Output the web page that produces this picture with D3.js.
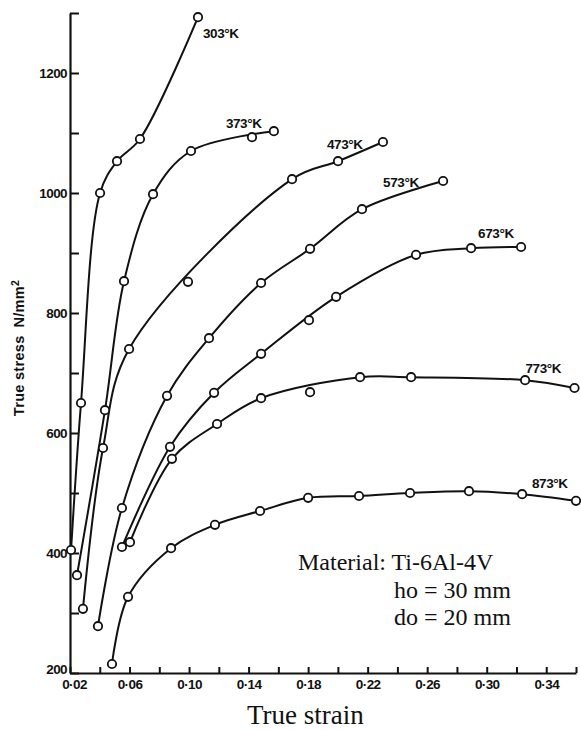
<!DOCTYPE html>
<html>
<head>
<meta charset="utf-8">
<script src="https://cdn.jsdelivr.net/npm/d3@7"></script>
<style>
  html, body { margin: 0; padding: 0; background: #fff; }
  svg { display: block; }
</style>
</head>
<body>
<script>
// Flow curves of Ti-6Al-4V: true stress (N/mm²) against true strain at seven temperatures.
const temperatures = ["303°K", "373°K", "473°K", "573°K", "673°K", "773°K", "873°K"];

const strain303 = [0.0207, 0.0274, 0.0402, 0.0516, 0.0670, 0.1060];
const stress303 = [405, 650, 1000, 1053, 1090, 1293];

const strain373 = [0.0247, 0.0435, 0.0563, 0.0758, 0.1013, 0.1423, 0.1570];
const stress373 = [363, 638, 853, 998, 1070, 1093, 1103];

const strain473 = [0.0287, 0.0422, 0.0597, 0.0993, 0.1692, 0.2001, 0.2303];
const stress473 = [307, 575, 740, 852, 1023, 1053, 1085];

const strain573 = [0.0388, 0.0549, 0.0852, 0.1134, 0.1484, 0.1813, 0.2162, 0.2707];
const stress573 = [278, 475, 662, 758, 850, 907, 973, 1020];

const strain673 = [0.0549, 0.0872, 0.1168, 0.1484, 0.1806, 0.1988, 0.2525, 0.2895, 0.3231];
const stress673 = [410, 577, 667, 732, 788, 827, 897, 908, 910];

const strain773 = [0.0603, 0.0885, 0.1188, 0.1484, 0.1813, 0.2149, 0.2492, 0.3258, 0.3590];
const stress773 = [418, 557, 615, 658, 668, 693, 693, 688, 675];

const strain873 = [0.0482, 0.0590, 0.0879, 0.1174, 0.1477, 0.1800, 0.2142, 0.2485, 0.2881, 0.3238, 0.3600];
const stress873 = [215, 327, 408, 447, 470, 492, 495, 500, 503, 498, 487];

// Measured points that the faired curve does not pass through (index within each series)
const scatterPoints = [[], [5], [3], [], [4], [4], []];

const xTicks = [0.02, 0.04, 0.06, 0.08, 0.10, 0.12, 0.14, 0.16, 0.18, 0.20, 0.22, 0.24, 0.26, 0.28, 0.30, 0.32, 0.34, 0.36];
const xTickLabels = ["0·02", "", "0·06", "", "0·10", "", "0·14", "", "0·18", "", "0·22", "", "0·26", "", "0·30", "", "0·34", ""];
const yTicks = [200, 300, 400, 500, 600, 700, 800, 900, 1000, 1100, 1200, 1300];
const yTickLabels = ["200", "", "400", "", "600", "", "800", "", "1000", "", "1200", ""];

const materialLines = ["Material: Ti-6Al-4V", "ho = 30 mm", "do = 20 mm"];

// ---- layout ----
const W = 581, H = 730;
const plot = { left: 70, right: 576, top: 13, bottom: 673 };
// Label placement relative to the last point of each curve (px)
const labelOffsets = [[5, 21], [-48, -3], [-56, 7], [-60, 6], [-43, -9], [-49, -15], [-44, -13]];

const series = [
  [strain303, stress303], [strain373, stress373], [strain473, stress473],
  [strain573, stress573], [strain673, stress673], [strain773, stress773],
  [strain873, stress873]
].map(([xs, ys], i) => ({
  name: temperatures[i],
  points: xs.map((s, j) => ({ strain: s, stress: ys[j], onCurve: !scatterPoints[i].includes(j) }))
}));

const x = d3.scaleLinear().domain([0.02, 0.36]).range([plot.left, plot.right]);
const y = d3.scaleLinear().domain([200, 1300]).range([plot.bottom, plot.top]);

const svg = d3.select("body").append("svg")
  .attr("width", W).attr("height", H)
  .style("font-family", "'Liberation Sans', Arial, sans-serif");

// Axes
const yAxis = d3.axisLeft(y)
  .tickValues(yTicks)
  .tickSize(-9)
  .tickSizeOuter(0)
  .tickPadding(3)
  .tickFormat((d, i) => yTickLabels[i]);

const xAxis = d3.axisBottom(x)
  .tickValues(xTicks)
  .tickSize(-6)
  .tickSizeOuter(0)
  .tickPadding(6)
  .tickFormat((d, i) => xTickLabels[i]);

function styleAxis(g) {
  g.select(".domain").attr("stroke", "#111").attr("stroke-width", 2.2);
  g.selectAll(".tick line").attr("stroke", "#111").attr("stroke-width", 2);
  g.selectAll(".tick text")
    .attr("fill", "#111")
    .style("font-size", "13.5px")
    .style("font-weight", "bold")
    .style("letter-spacing", "-0.6px")
    .style("font-family", "'Liberation Sans', Arial, sans-serif");
}

const gy = svg.append("g")
  .attr("transform", `translate(${plot.left},0)`)
  .call(yAxis)
  .call(styleAxis);

const gx = svg.append("g")
  .attr("transform", `translate(0,${plot.bottom})`)
  .call(xAxis)
  .call(styleAxis);

// Keep the two corner labels apart: lift the lowest stress label, nudge the first strain label right
gy.selectAll(".tick text").filter(d => d === y.domain()[0]).attr("dy", "0.05em");
gx.selectAll(".tick text").filter(d => d === x.domain()[0]).attr("dx", 4);

// Faired curves
const line = d3.line()
  .x(d => x(d.strain))
  .y(d => y(d.stress))
  .curve(d3.curveCatmullRom.alpha(0.5));

svg.append("g").selectAll("path")
  .data(series)
  .join("path")
  .attr("d", s => line(s.points.filter(p => p.onCurve)))
  .attr("fill", "none")
  .attr("stroke", "#111")
  .attr("stroke-width", 2);

// Measured points
svg.append("g").selectAll("g")
  .data(series)
  .join("g")
  .selectAll("circle")
  .data(s => s.points)
  .join("circle")
  .attr("cx", d => x(d.strain))
  .attr("cy", d => y(d.stress))
  .attr("r", 4.2)
  .attr("fill", "#fff")
  .attr("stroke", "#111")
  .attr("stroke-width", 1.8);

// Curve labels
svg.append("g").selectAll("text")
  .data(series)
  .join("text")
  .attr("x", (s, i) => x(s.points[s.points.length - 1].strain) + labelOffsets[i][0])
  .attr("y", (s, i) => y(s.points[s.points.length - 1].stress) + labelOffsets[i][1])
  .attr("fill", "#111")
  .style("font-size", "13.5px")
  .style("font-weight", "bold")
  .style("letter-spacing", "-0.4px")
  .text(s => s.name);

// Axis titles
svg.append("text")
  .attr("transform", "translate(24,348) rotate(-90)")
  .attr("text-anchor", "middle")
  .attr("fill", "#111")
  .style("font-size", "14.5px")
  .style("font-weight", "bold")
  .style("letter-spacing", "0.3px")
  .call(t => {
    t.append("tspan").text("True stress");
    t.append("tspan").attr("dx", 8).text("N/mm");
    t.append("tspan").attr("dy", -5).style("font-size", "10.5px").text("2");
  });

svg.append("text")
  .attr("x", 247)
  .attr("y", 724)
  .attr("fill", "#111")
  .style("font-family", "'Liberation Serif', 'Times New Roman', serif")
  .style("font-size", "27px")
  .text("True strain");

// Specimen note
const note = svg.append("text")
  .attr("fill", "#111")
  .style("font-family", "'Liberation Serif', 'Times New Roman', serif")
  .style("font-size", "24px");
note.selectAll("tspan")
  .data(materialLines)
  .join("tspan")
  .attr("x", (d, i) => i === 0 ? 298 : 394)
  .attr("y", (d, i) => 570 + i * 27.5)
  .text(d => d);
</script>
</body>
</html>
